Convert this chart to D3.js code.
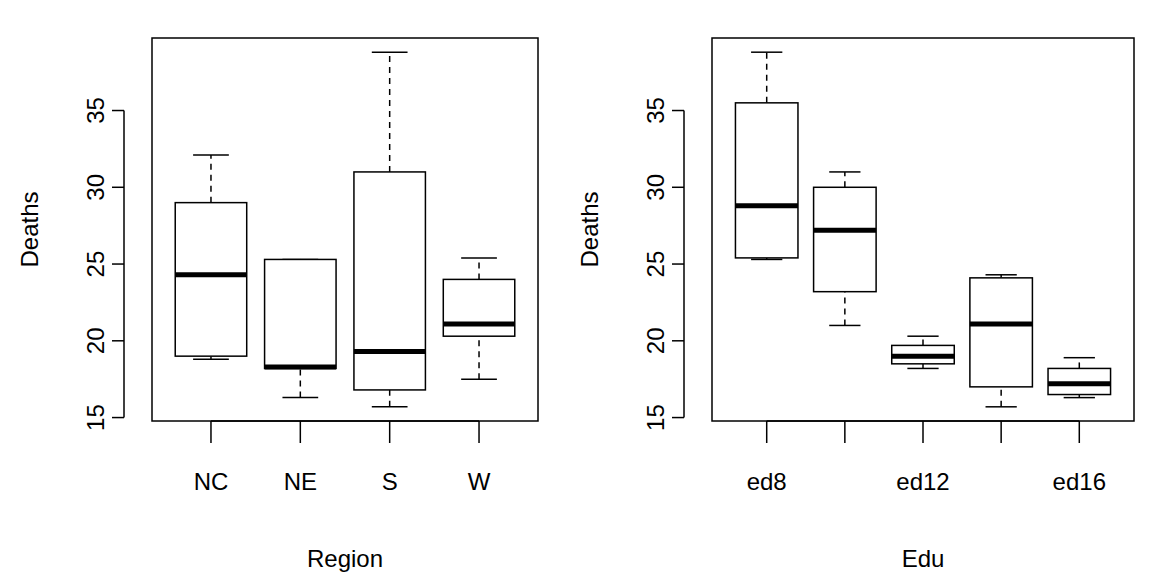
<!DOCTYPE html>
<html><head><meta charset="utf-8">
<script src="https://cdn.jsdelivr.net/npm/d3@7"></script>
<style>body{margin:0;background:#fff}text{font-family:Arial,"Liberation Sans",sans-serif;}</style>
</head><body><svg id="c" width="1152" height="576"></svg>
<script>
// five-number summaries: [low, q1, median, q3, high]
const regionCats = ['NC', 'NE', 'S', 'W'];
const regionStats = [
  [18.8, 19.0, 24.3, 29.0, 32.1],
  [16.3, 18.2, 18.3, 25.3, 25.3],
  [15.7, 16.8, 19.3, 31.0, 38.8],
  [17.5, 20.3, 21.1, 24.0, 25.4]
];
const eduCats = ['ed8', 'ed10', 'ed12', 'ed14', 'ed16'];
const eduLabels = ['ed8', '', 'ed12', '', 'ed16'];
const eduStats = [
  [25.3, 25.4, 28.8, 35.5, 38.8],
  [21.0, 23.2, 27.2, 30.0, 31.0],
  [18.2, 18.5, 19.0, 19.7, 20.3],
  [15.7, 17.0, 21.1, 24.1, 24.3],
  [16.3, 16.5, 17.2, 18.2, 18.9]
];
const yTicks = [15, 20, 25, 30, 35];

const svg = d3.select('#c');

function panel(x0, x1, cats, labels, stats, title) {
  const top = 38, bottom = 421;
  const n = cats.length;
  const ext = n * 0.04;
  const x = d3.scaleLinear().domain([0.5 - ext, n + 0.5 + ext]).range([x0, x1]);
  const y = d3.scaleLinear().domain([14.776, 39.724]).range([bottom, top]);
  const g = svg.append('g');
  const hw = 0.4, cw = 0.2;

  stats.forEach((s, i) => {
    const c = x(i + 1);
    const bw = x(hw) - x(0), sw = x(cw) - x(0);
    [[s[0], s[1]], [s[3], s[4]]].forEach(([a, b]) => {
      g.append('line').attr('x1', c).attr('x2', c).attr('y1', y(a)).attr('y2', y(b))
        .attr('stroke', '#000').attr('stroke-width', 1.5).attr('stroke-dasharray', '6,5');
    });
    [s[0], s[4]].forEach(v => g.append('line').attr('x1', c - sw).attr('x2', c + sw)
      .attr('y1', y(v)).attr('y2', y(v)).attr('stroke', '#000').attr('stroke-width', 1.5));
    g.append('rect').attr('x', c - bw).attr('width', 2 * bw).attr('y', y(s[3]))
      .attr('height', y(s[1]) - y(s[3])).attr('fill', '#fff').attr('stroke', '#000').attr('stroke-width', 1.5);
    g.append('line').attr('x1', c - bw).attr('x2', c + bw).attr('y1', y(s[2])).attr('y2', y(s[2]))
      .attr('stroke', '#000').attr('stroke-width', 5);
  });

  g.append('rect').attr('x', x0).attr('y', top).attr('width', x1 - x0).attr('height', bottom - top)
    .attr('fill', 'none').attr('stroke', '#000').attr('stroke-width', 1.5);

  // y axis
  const yb = x0 - 28;
  g.append('line').attr('x1', yb).attr('x2', yb).attr('y1', y(15)).attr('y2', y(35)).attr('stroke', '#000').attr('stroke-width', 1.5);
  yTicks.forEach(t => {
    g.append('line').attr('x1', yb).attr('x2', yb - 12).attr('y1', y(t)).attr('y2', y(t)).attr('stroke', '#000').attr('stroke-width', 1.5);
    g.append('text').attr('transform', `translate(${yb - 20},${y(t)}) rotate(-90)`)
      .attr('text-anchor', 'middle').attr('font-size', 24).text(t);
  });
  g.append('text').attr('transform', `translate(${x0 - 122},${(top + bottom) / 2}) rotate(-90)`)
    .attr('text-anchor', 'middle').attr('dy', '0.35em').attr('font-size', 24).text('Deaths');

  // x axis
  const xb = bottom + 0;
  g.append('line').attr('x1', x(1)).attr('x2', x(n)).attr('y1', xb).attr('y2', xb).attr('stroke', '#000').attr('stroke-width', 1.5);
  cats.forEach((c, i) => {
    g.append('line').attr('x1', x(i + 1)).attr('x2', x(i + 1)).attr('y1', xb).attr('y2', xb + 22).attr('stroke', '#000').attr('stroke-width', 1.5);
    g.append('text').attr('x', x(i + 1)).attr('y', 490).attr('text-anchor', 'middle').attr('font-size', 24).text(labels[i]);
  });
  g.append('text').attr('x', (x0 + x1) / 2).attr('y', 567).attr('text-anchor', 'middle').attr('font-size', 24).text(title);
}

panel(152, 538, regionCats, regionCats, regionStats, 'Region');
panel(712, 1134, eduCats, eduLabels, eduStats, 'Edu');
</script></body></html>
